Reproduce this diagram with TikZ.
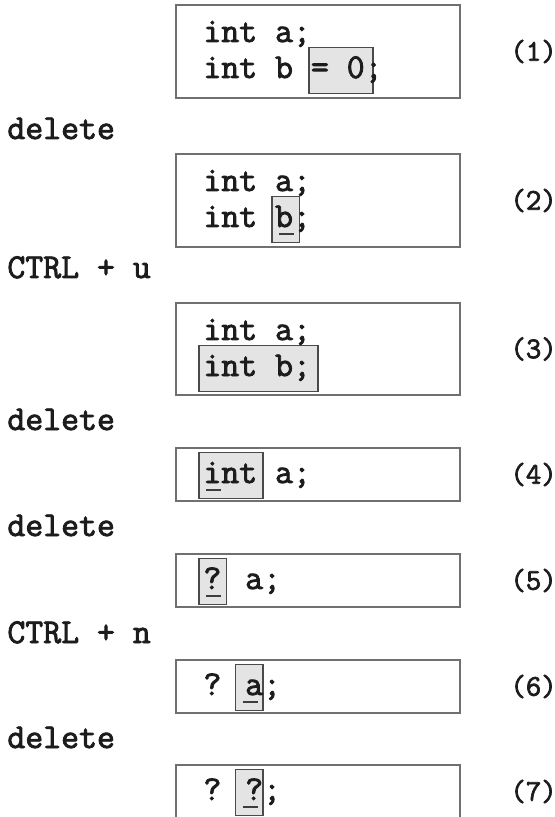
\documentclass[tikz,border=0pt]{standalone}
\usepackage{fontspec}
\newfontfamily\codefont{Latin Modern Mono}[FakeBold=2.4]
\definecolor{boxgray}{HTML}{707070}
\definecolor{hlfill}{HTML}{E4E4E4}
\definecolor{hlline}{HTML}{4A4A4A}
\definecolor{ink}{HTML}{1C1C1C}
\tikzset{
  codebox/.style={draw=boxgray,line width=1pt},
  hilite/.style={fill=hlfill,draw=hlline,line width=0.8pt},
  cursor/.style={draw=ink!85,line width=0.9pt},
  code/.style={font=\codefont\fontsize{17.4}{20}\selectfont,inner sep=0pt,anchor=base west,text=ink},
  tag/.style={font=\codefont\fontsize{15}{18}\selectfont,inner sep=0pt,anchor=west,text=ink},
}
% #1 baseline, #2 first column, #3 columns
\newcommand{\hlbox}[3]{\draw[hilite](\ox+#2*\cw-4,#1-30.5)rectangle(\ox+#2*\cw+#3*\cw+5,#1+15.5);}
\newcommand{\curs}[2]{\draw[cursor](\ox+#2*\cw+3,#1+7)--++(15,0);}
\begin{document}
\begin{tikzpicture}[x=0.5pt,y=-0.5pt]
\pgfmathsetmacro{\ox}{203}
\pgfmathsetmacro{\cw}{18.3}
\useasboundingbox(0,0)rectangle(555,817);
\clip(0,0)rectangle(555,817);
\foreach \n/\t/\b in {1/5/98,2/154/247,3/303/395,4/448/501,5/554/607,6/660/713,7/765/818}{\draw[codebox](176,\t)rectangle(460,\b);\node[tag](tag\n)at(510,{(\t+\b)/2}){(\n)};}
\foreach \k/\y/\s in {1/139/delete,2/278/CTRL + u,3/430/delete,4/536/delete,5/643/CTRL + n,6/748/delete}{\node[code](key\k)at(7,\y){\s};}
\hlbox{78}{6}{3}
\hlbox{227}{4}{1}\curs{227}{4}
\hlbox{376}{0}{6}
\hlbox{483}{0}{3}\curs{483}{0}
\hlbox{589}{0}{1}\curs{589}{0}
\hlbox{695}{2}{1}\curs{695}{2}
\hlbox{800}{2}{1}\curs{800}{2}
\node[code](c1a)at(\ox,42){int a;};
\node[code](c1b)at(\ox,78){int b = 0;};
\node[code](c2a)at(\ox,191){int a;};
\node[code](c2b)at(\ox,227){int b;};
\node[code](c3a)at(\ox,340){int a;};
\node[code](c3b)at(\ox,376){int b;};
\node[code](c4)at(\ox,483){int a;};
\node[code](c5)at(\ox,589){? a;};
\node[code](c6)at(\ox,695){? a;};
\node[code](c7)at(\ox,800){? ?;};
\end{tikzpicture}
\end{document}
